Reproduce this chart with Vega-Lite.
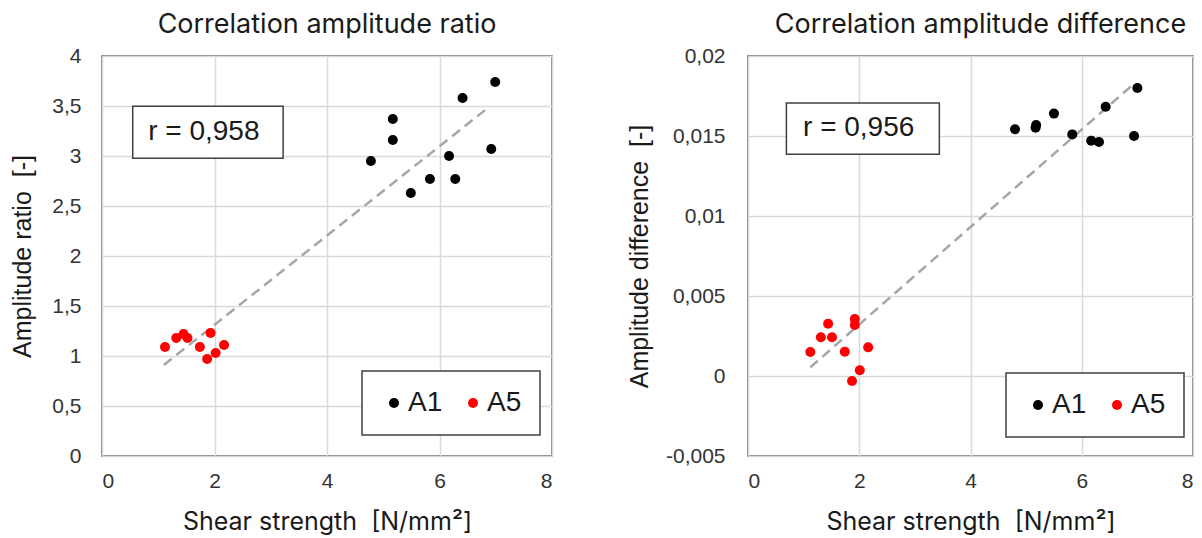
{
  "$schema": "https://vega.github.io/schema/vega-lite/v6.json",
  "background": "white",
  "padding": {"left": 10, "top": 10, "right": 4, "bottom": 0},
  "spacing": 73,
  "datasets": {
    "ratio": [
      {"series": "A1", "shear": 6.99, "value": 3.74},
      {"series": "A1", "shear": 6.41, "value": 3.58},
      {"series": "A1", "shear": 5.17, "value": 3.37},
      {"series": "A1", "shear": 5.17, "value": 3.16},
      {"series": "A1", "shear": 4.78, "value": 2.95},
      {"series": "A1", "shear": 6.17, "value": 3.00},
      {"series": "A1", "shear": 6.92, "value": 3.07},
      {"series": "A1", "shear": 5.83, "value": 2.77},
      {"series": "A1", "shear": 6.28, "value": 2.77},
      {"series": "A1", "shear": 5.49, "value": 2.63},
      {"series": "A5", "shear": 1.12, "value": 1.09},
      {"series": "A5", "shear": 1.32, "value": 1.18},
      {"series": "A5", "shear": 1.45, "value": 1.22},
      {"series": "A5", "shear": 1.52, "value": 1.18},
      {"series": "A5", "shear": 1.74, "value": 1.09},
      {"series": "A5", "shear": 1.93, "value": 1.23},
      {"series": "A5", "shear": 2.17, "value": 1.11},
      {"series": "A5", "shear": 1.87, "value": 0.97},
      {"series": "A5", "shear": 2.02, "value": 1.03}
    ],
    "diff": [
      {"series": "A1", "shear": 7.00, "value": 0.0180},
      {"series": "A1", "shear": 6.43, "value": 0.01683},
      {"series": "A1", "shear": 5.50, "value": 0.0164},
      {"series": "A1", "shear": 5.18, "value": 0.01569},
      {"series": "A1", "shear": 5.17, "value": 0.01552},
      {"series": "A1", "shear": 4.80, "value": 0.01542},
      {"series": "A1", "shear": 5.83, "value": 0.0151},
      {"series": "A1", "shear": 6.17, "value": 0.01471},
      {"series": "A1", "shear": 6.31, "value": 0.01463},
      {"series": "A1", "shear": 6.94, "value": 0.0150},
      {"series": "A5", "shear": 1.12, "value": 0.0015},
      {"series": "A5", "shear": 1.31, "value": 0.00242},
      {"series": "A5", "shear": 1.44, "value": 0.00327},
      {"series": "A5", "shear": 1.51, "value": 0.00242},
      {"series": "A5", "shear": 1.74, "value": 0.00152},
      {"series": "A5", "shear": 1.92, "value": 0.00356},
      {"series": "A5", "shear": 1.92, "value": 0.00319},
      {"series": "A5", "shear": 2.16, "value": 0.00179},
      {"series": "A5", "shear": 2.01, "value": 0.00036},
      {"series": "A5", "shear": 1.87, "value": -0.00031}
    ],
    "trend_ratio": [
      {"shear": 1.10, "value": 0.91},
      {"shear": 6.88, "value": 3.49}
    ],
    "trend_diff": [
      {"shear": 1.12, "value": 0.00054},
      {"shear": 6.95, "value": 0.0183}
    ],
    "note_ratio": [{"label": "r = 0,958"}],
    "note_diff": [{"label": "r = 0,956"}]
  },
  "hconcat": [
    {
      "width": 450,
      "height": 400,
      "title": {"text": "Correlation amplitude ratio", "frame": "group"},
      "layer": [
        {
          "data": {"name": "trend_ratio"},
          "mark": {"type": "line", "color": "#a6a6a6", "strokeWidth": 2.5, "strokeDash": [10, 6]},
          "encoding": {
            "x": {"field": "shear", "type": "quantitative"},
            "y": {"field": "value", "type": "quantitative"}
          }
        },
        {
          "data": {"name": "ratio"},
          "mark": {"type": "circle", "size": 100, "opacity": 1},
          "encoding": {
            "x": {"field": "shear", "type": "quantitative", "scale": {"domain": [0, 8], "nice": false},
                  "axis": {"values": [0, 2, 4, 6, 8], "format": "~g", "title": "Shear strength \u00a0[N/mm²]", "labelPadding": 14}},
            "y": {"field": "value", "type": "quantitative", "scale": {"domain": [0, 4], "nice": false},
                  "axis": {"values": [0, 0.5, 1, 1.5, 2, 2.5, 3, 3.5, 4], "format": "~g", "labelExpr": "replace(datum.label, '.', ',')", "title": "Amplitude ratio \u00a0[-]", "labelPadding": 21, "titlePadding": 16}},
            "color": {"field": "series", "type": "nominal",
                      "scale": {"domain": ["A1", "A5"], "range": ["#000000", "#ff0000"]},
                      "legend": {"orient": "none", "legendX": 260, "legendY": 315, "title": null}}
          }
        },
        {
          "data": {"name": "note_ratio"},
          "mark": {"type": "rect", "fill": "white", "stroke": "#404040", "strokeWidth": 1.5},
          "encoding": {
            "x": {"datum": 0.546, "type": "quantitative"},
            "x2": {"datum": 3.22},
            "y": {"datum": 3.497, "type": "quantitative"},
            "y2": {"datum": 2.977}
          }
        },
        {
          "data": {"name": "note_ratio"},
          "mark": {"type": "text", "font": "Liberation Sans", "fontSize": 28, "align": "center", "baseline": "middle", "color": "#1a1a1a"},
          "encoding": {
            "text": {"field": "label"},
            "x": {"datum": 1.81, "type": "quantitative"},
            "y": {"datum": 3.24, "type": "quantitative"}
          }
        }
      ]
    },
    {
      "width": 445,
      "height": 400,
      "title": {"text": "Correlation amplitude difference", "frame": "group", "dx": 10},
      "layer": [
        {
          "data": {"name": "trend_diff"},
          "mark": {"type": "line", "color": "#a6a6a6", "strokeWidth": 2.5, "strokeDash": [10, 6]},
          "encoding": {
            "x": {"field": "shear", "type": "quantitative"},
            "y": {"field": "value", "type": "quantitative"}
          }
        },
        {
          "data": {"name": "diff"},
          "mark": {"type": "circle", "size": 100, "opacity": 1},
          "encoding": {
            "x": {"field": "shear", "type": "quantitative", "scale": {"domain": [0, 8], "nice": false},
                  "axis": {"values": [0, 2, 4, 6, 8], "format": "~g", "title": "Shear strength \u00a0[N/mm²]", "labelPadding": 14}},
            "y": {"field": "value", "type": "quantitative", "scale": {"domain": [-0.005, 0.02], "nice": false},
                  "axis": {"values": [-0.005, 0, 0.005, 0.01, 0.015, 0.02], "format": "~g", "labelExpr": "replace(replace(datum.label, '.', ','), '−', '-')", "title": "Amplitude difference \u00a0[-]", "labelPadding": 23, "titlePadding": 13}},
            "color": {"field": "series", "type": "nominal",
                      "scale": {"domain": ["A1", "A5"], "range": ["#000000", "#ff0000"]},
                      "legend": {"orient": "none", "legendX": 258, "legendY": 317, "title": null}}
          }
        },
        {
          "data": {"name": "note_diff"},
          "mark": {"type": "rect", "fill": "white", "stroke": "#404040", "strokeWidth": 1.5},
          "encoding": {
            "x": {"datum": 0.69, "type": "quantitative"},
            "x2": {"datum": 3.44},
            "y": {"datum": 0.01706, "type": "quantitative"},
            "y2": {"datum": 0.01386}
          }
        },
        {
          "data": {"name": "note_diff"},
          "mark": {"type": "text", "font": "Liberation Sans", "fontSize": 28, "align": "center", "baseline": "middle", "color": "#1a1a1a"},
          "encoding": {
            "text": {"field": "label"},
            "x": {"datum": 1.99, "type": "quantitative"},
            "y": {"datum": 0.01548, "type": "quantitative"}
          }
        }
      ]
    }
  ],
  "resolve": {"scale": {"color": "independent"}, "legend": {"color": "independent"}},
  "config": {
    "font": "Liberation Sans",
    "view": {"stroke": "#595959", "strokeWidth": 1.5},
    "axis": {
      "grid": true, "gridColor": "#d9d9d9", "gridWidth": 1.5,
      "domain": false, "ticks": false,
      "labelFont": "Liberation Sans", "labelFontSize": 21, "labelColor": "#333333",
      "titleFontWeight": "normal", "titleColor": "#1a1a1a"
    },
    "axisX": {"titleFont": "Inter", "titleFontSize": 25, "titlePadding": 18},
    "axisY": {"titleFont": "Liberation Sans", "titleFontSize": 25},
    "legend": {
      "direction": "horizontal", "strokeColor": "#404040", "strokeWidth": 1.5, "fillColor": "white",
      "padding": 18, "symbolOffset": 0, "symbolType": "circle", "symbolSize": 100, "symbolStrokeWidth": 0,
      "labelFont": "Liberation Sans", "labelFontSize": 28, "labelColor": "#1a1a1a", "labelOffset": 0, "columnPadding": 16
    },
    "title": {"font": "Inter", "fontSize": 27, "fontWeight": "normal", "color": "#1a1a1a", "offset": 6}
  }
}
